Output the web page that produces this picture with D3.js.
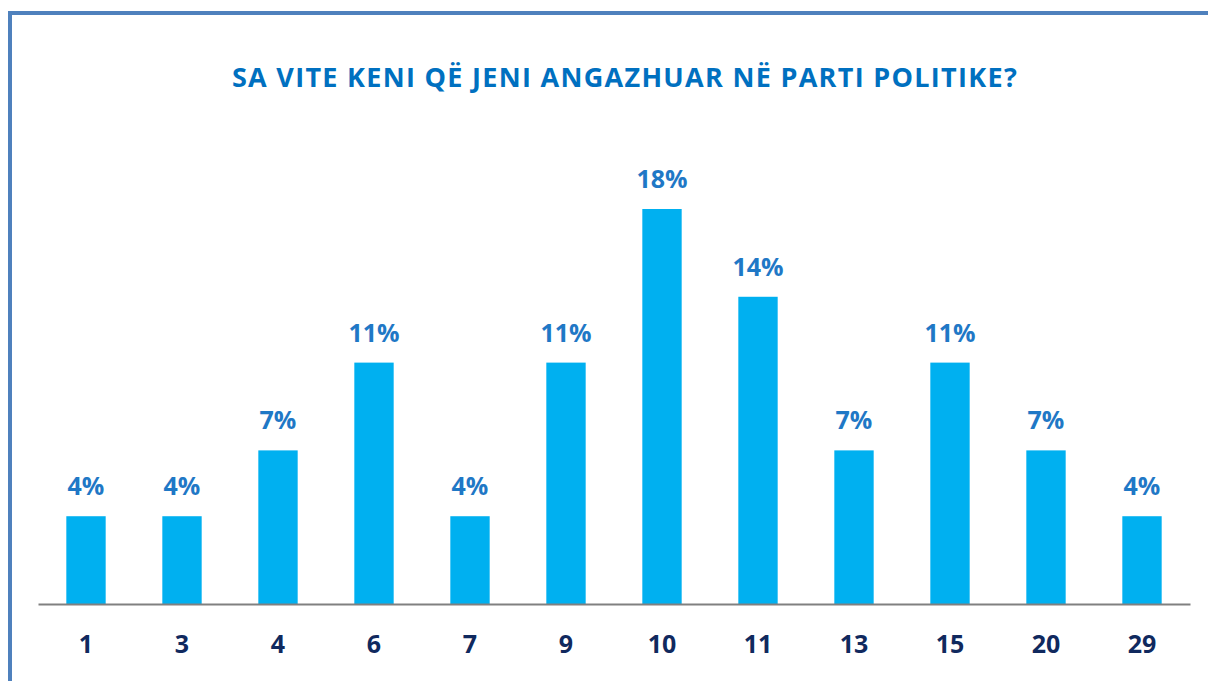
<!DOCTYPE html>
<html>
<head>
<meta charset="utf-8">
<script src="https://cdn.jsdelivr.net/npm/d3@7"></script>
<style>
  body { margin: 0; background: #fff; }
  text { font-family: "Open Sans", "Noto Sans", sans-serif; font-weight: 700; }
</style>
</head>
<body>
<div id="chart"></div>
<script>
const width = 1208;
const height = 681;

const title = "SA VITE KENI QË JENI ANGAZHUAR NË PARTI POLITIKE?";
const years = ["1", "3", "4", "6", "7", "9", "10", "11", "13", "15", "20", "29"];
const shares = [4, 4, 7, 11, 4, 11, 18, 14, 7, 11, 7, 4];

const colors = {
  frame: "#4F81BD",
  title: "#0070C0",
  bar: "#00B0F0",
  label: "#1F78C6",
  tick: "#10295E",
  axis: "#808080",
};

const margin = { left: 38, right: 18, bottom: 77 };
const baseY = height - margin.bottom; // 604

const svg = d3
  .select("#chart")
  .append("svg")
  .attr("width", width)
  .attr("height", height);

// frame of the slide (only top and left edges show)
svg.append("rect")
  .attr("x", 10)
  .attr("y", 13)
  .attr("width", width + 20)
  .attr("height", height + 20)
  .attr("fill", "none")
  .attr("stroke", colors.frame)
  .attr("stroke-width", 4);

svg.append("text")
  .attr("x", 625)
  .attr("y", 87)
  .attr("text-anchor", "middle")
  .attr("fill", colors.title)
  .style("font-size", "27px")
  .style("letter-spacing", "1.3px")
  .text(title);

const x = d3
  .scaleBand()
  .domain(years)
  .range([margin.left, width - margin.right])
  .paddingInner(0.59)
  .paddingOuter(0.295);

const y = d3.scaleLinear().domain([0, 18]).range([baseY, 209]);

svg.selectAll(".bar")
  .data(years)
  .enter()
  .append("rect")
  .attr("class", "bar")
  .attr("x", (d) => x(d))
  .attr("y", (d, i) => y(shares[i]))
  .attr("width", x.bandwidth())
  .attr("height", (d, i) => baseY - y(shares[i]))
  .attr("fill", colors.bar);

svg.selectAll(".val")
  .data(years)
  .enter()
  .append("text")
  .attr("class", "val")
  .attr("x", (d) => x(d) + x.bandwidth() / 2)
  .attr("y", (d, i) => y(shares[i]) - 21)
  .attr("text-anchor", "middle")
  .attr("fill", colors.label)
  .style("font-size", "25px")
  .text((d, i) => shares[i] + "%");

const axis = svg
  .append("g")
  .attr("transform", `translate(0,${baseY})`)
  .call(d3.axisBottom(x).tickSize(0).tickPadding(0));

axis.select(".domain")
  .attr("stroke", colors.axis)
  .attr("stroke-width", 2);

axis.selectAll("text")
  .attr("dy", null)
  .attr("y", 49)
  .attr("fill", colors.tick)
  .style("font-size", "25px")
  .style("font-family", "\"Open Sans\", sans-serif")
  .style("font-weight", 700);
</script>
</body>
</html>
